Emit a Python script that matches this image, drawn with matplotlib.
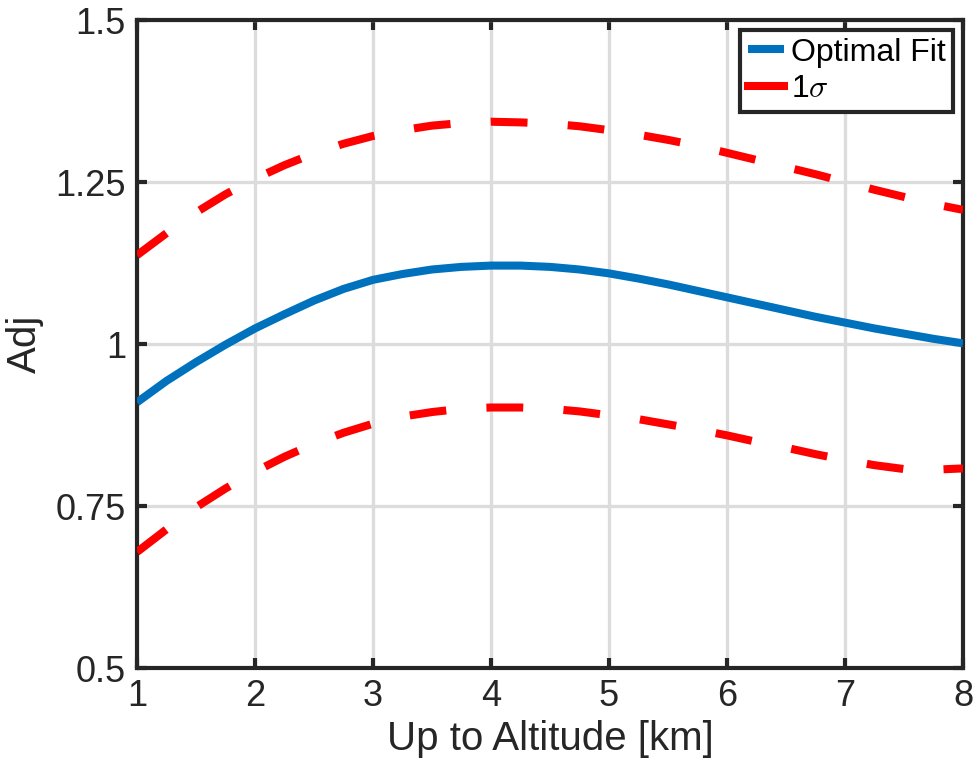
import matplotlib
matplotlib.use("Agg")
import matplotlib.pyplot as plt

plt.rcParams['font.family'] = ['Liberation Sans', 'DejaVu Sans']
plt.rcParams['mathtext.fontset'] = 'cm'
plt.rcParams['lines.scale_dashes'] = False

altitude = [1.0, 1.25, 1.5, 1.75, 2.0, 2.25, 2.5, 2.75, 3.0, 3.25, 3.5, 3.75,
            4.0, 4.25, 4.5, 4.75, 5.0, 5.25, 5.5, 5.75, 6.0, 6.25, 6.5, 6.75,
            7.0, 7.25, 7.5, 7.75, 8.0]
optimal_fit = [0.910, 0.943, 0.972, 0.999, 1.024, 1.046, 1.067, 1.085, 1.099,
               1.108, 1.115, 1.119, 1.121, 1.121, 1.119, 1.115, 1.109, 1.101,
               1.092, 1.082, 1.072, 1.062, 1.052, 1.042, 1.033, 1.024, 1.016,
               1.008, 1.001]
upper_sigma = [1.137, 1.171, 1.203, 1.231, 1.255, 1.276, 1.294, 1.309, 1.321,
               1.330, 1.337, 1.341, 1.343, 1.342, 1.340, 1.336, 1.330, 1.323,
               1.315, 1.306, 1.295, 1.284, 1.273, 1.262, 1.250, 1.238, 1.227,
               1.216, 1.207]
lower_sigma = [0.679, 0.714, 0.748, 0.777, 0.803, 0.826, 0.846, 0.863, 0.877,
               0.888, 0.895, 0.900, 0.902, 0.902, 0.900, 0.896, 0.890, 0.884,
               0.876, 0.868, 0.859, 0.849, 0.840, 0.830, 0.821, 0.813, 0.807,
               0.806, 0.808]

xticks = [1, 2, 3, 4, 5, 6, 7, 8]
yticks = [0.5, 0.75, 1.0, 1.25, 1.5]
yticklabels = ['0.5', '0.75', '1', '1.25', '1.5']

W, H = 977, 773
fig = plt.figure(figsize=(W / 100, H / 100), dpi=100)
ax = fig.add_axes([137 / W, 1 - 668 / H, (963 - 137) / W, (668 - 20) / H])

dark = '#262626'
ax.plot(altitude, optimal_fit, color='#0072BD', lw=5.8, label='Optimal Fit',
        solid_capstyle='butt', solid_joinstyle='round', zorder=3)
ax.plot(altitude, upper_sigma, color='#FF0000', lw=5.8, dashes=(26.5, 29),
        dash_capstyle='butt', label='1$\\sigma$', zorder=3)
ax.plot(altitude, lower_sigma, color='#FF0000', lw=5.8, dashes=(26.5, 29),
        dash_capstyle='butt', zorder=3)

ax.set_xlim(1, 8)
ax.set_ylim(0.5, 1.5)
ax.set_xticks(xticks)
ax.set_xticklabels([str(t) for t in xticks])
ax.set_yticks(yticks)
ax.set_yticklabels(yticklabels)
ax.grid(True, color='#dcdcdc', lw=2.4, zorder=0)
ax.set_axisbelow(True)
ax.tick_params(direction='in', length=7, width=3, colors=dark, labelsize=26,
               top=True, right=True, pad=8)
for sp in ax.spines.values():
    sp.set_linewidth(3)
    sp.set_color(dark)

ax.set_xlabel('Up to Altitude [km]', fontsize=29, color=dark, labelpad=4)
ax.set_ylabel('Adj', fontsize=29, color=dark, labelpad=8)

leg = ax.legend(loc='upper right', fontsize=23, frameon=True, fancybox=False,
                framealpha=1, edgecolor=dark, handlelength=1.15,
                handletextpad=0.2, borderpad=0.25, labelspacing=0.2,
                borderaxespad=0.3)
leg.get_frame().set_linewidth(3)
for h in leg.get_lines():
    h.set_linestyle('-')
    h.set_linewidth(5.8)
for t in leg.get_texts():
    t.set_color('black')

fig.savefig('out.png', dpi=100)
